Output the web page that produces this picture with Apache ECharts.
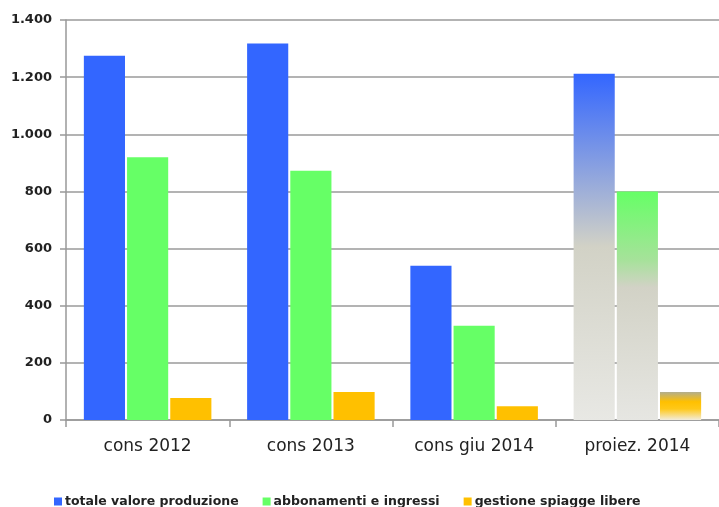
<!DOCTYPE html>
<html>
<head>
<meta charset="utf-8">
<script src="https://cdn.jsdelivr.net/npm/echarts@6/dist/echarts.min.js"></script>
<style>html,body{margin:0;padding:0;background:#fff}#c{width:719px;height:507px}</style>
</head>
<body>
<div id="c"></div>
<script>
const categories = ['cons 2012', 'cons 2013', 'cons giu 2014', 'proiez. 2014'];
const seriesNames = ['totale valore produzione', 'abbonamenti e ingressi', 'gestione spiagge libere'];
const totale = [1275, 1318, 540, 1212];
const abbonamenti = [920, 872, 330, 800];
const spiagge = [77, 98, 48, 98];
const yTicks = [0, 200, 400, 600, 800, 1000, 1200, 1400];

const colors = ['#3366ff', '#66ff66', '#ffc000'];
function grad(stops) {
  return new echarts.graphic.LinearGradient(0, 0, 0, 1, stops.map(s => ({offset: s[0], color: s[1]})));
}
const projStyles = [
  grad([[0, '#3366ff'], [0.5, '#d2d2c6'], [1, '#e8e8e4']]),
  grad([[0, '#66ff66'], [0.3, '#a6e29a'], [0.42, '#d2d2c6'], [1, '#e6e6e2']]),
  grad([[0, '#b2ae8e'], [0.35, '#ffc000'], [0.6, '#ffc818'], [1, '#f2ecdc']])
];
function mk(vals, i) {
  return vals.map((v, k) => k === 3 ? {value: v, itemStyle: {color: projStyles[i]}} : v);
}
const font = 'DejaVu Sans';
const chart = echarts.init(document.getElementById('c'), null, {renderer: 'canvas'});
chart.setOption({
  animation: false,
  color: colors,
  textStyle: {fontFamily: font},
  grid: {left: 66, right: 0, top: 20, bottom: 87, containLabel: false},
  legend: {
    bottom: -6, left: 49, icon: 'rect', itemWidth: 8, itemHeight: 8, itemGap: 24,
    textStyle: {fontSize: 12.5, fontWeight: 'bold', color: '#222', fontFamily: font, padding: [0, 0, 0, -2]},
    data: seriesNames
  },
  xAxis: {
    type: 'category', data: categories,
    axisLine: {lineStyle: {color: '#999', width: 1.5}},
    axisTick: {show: true, length: 7, lineStyle: {color: '#999', width: 1.5}},
    axisLabel: {fontSize: 17, color: '#222', margin: 18, fontFamily: font}
  },
  yAxis: {
    type: 'value', min: yTicks[0], max: yTicks[yTicks.length - 1], interval: 200,
    axisLine: {show: true, lineStyle: {color: '#999', width: 1.5}},
    axisTick: {show: true, length: 6, lineStyle: {color: '#999', width: 1.5}},
    splitLine: {lineStyle: {color: '#9a9a9a', width: 1.5}},
    axisLabel: {
      fontSize: 13, fontWeight: 'bold', color: '#222', margin: 14, fontFamily: font,
      formatter: v => String(v).replace(/\B(?=(\d{3})+(?!\d))/g, '.')
    }
  },
  series: [
    {name: seriesNames[0], type: 'bar', data: mk(totale, 0), barWidth: '25.2%', barGap: '5%'},
    {name: seriesNames[1], type: 'bar', data: mk(abbonamenti, 1), barWidth: '25.2%', barGap: '5%'},
    {name: seriesNames[2], type: 'bar', data: mk(spiagge, 2), barWidth: '25.2%', barGap: '5%'}
  ]
});
</script>
</body>
</html>
